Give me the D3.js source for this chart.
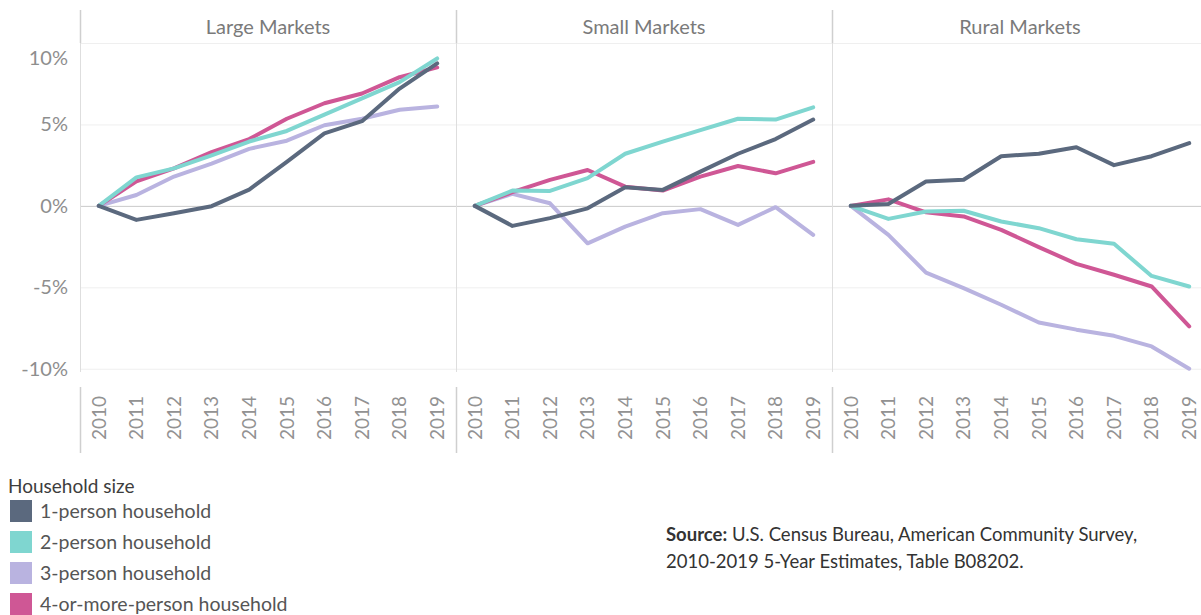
<!DOCTYPE html>
<html>
<head>
<meta charset="utf-8">
<script src="https://cdn.jsdelivr.net/npm/d3@7"></script>
<style>
  html, body { margin: 0; padding: 0; background: #fff; }
  svg { display: block; font-family: Lato, "Open Sans", sans-serif; }
</style>
</head>
<body>
<svg id="chart" width="1201" height="615"></svg>
<script>
// Change in households since 2010, by household size and market type (%)
const years = ["2010","2011","2012","2013","2014","2015","2016","2017","2018","2019"];
const markets = ["Large Markets", "Small Markets", "Rural Markets"];
const sizes = ["1-person household", "2-person household", "3-person household", "4-or-more-person household"];
const colors = ["#5b697e", "#7fd6d0", "#b9b3e0", "#cf5795"];
const yTicks = [10, 5, 0, -5, -10];

// values per market, in the order of `sizes`
const largeOne   = [0, -0.86, -0.45, -0.02, 1.0, 2.7, 4.45, 5.2, 7.2, 8.75];
const largeTwo   = [0, 1.75, 2.3, 3.1, 3.95, 4.6, 5.6, 6.6, 7.6, 9.05];
const largeThree = [0, 0.67, 1.8, 2.6, 3.5, 4.0, 4.95, 5.35, 5.9, 6.1];
const largeFour  = [0, 1.5, 2.3, 3.3, 4.1, 5.35, 6.3, 6.9, 7.9, 8.5];

const smallOne   = [0, -1.23, -0.75, -0.15, 1.15, 0.98, 2.1, 3.2, 4.1, 5.3];
const smallTwo   = [0, 0.94, 0.92, 1.7, 3.2, 3.95, 4.65, 5.35, 5.3, 6.05];
const smallThree = [0, 0.74, 0.16, -2.3, -1.27, -0.45, -0.2, -1.17, -0.08, -1.78];
const smallFour  = [0, 0.84, 1.6, 2.2, 1.18, 0.94, 1.8, 2.45, 2.0, 2.7];

const ruralOne   = [0, 0.12, 1.5, 1.6, 3.05, 3.2, 3.6, 2.5, 3.05, 3.85];
const ruralTwo   = [0, -0.8, -0.35, -0.3, -0.96, -1.37, -2.05, -2.33, -4.3, -4.95];
const ruralThree = [0, -1.78, -4.1, -5.05, -6.07, -7.16, -7.6, -7.98, -8.63, -10.0];
const ruralFour  = [0, 0.4, -0.4, -0.65, -1.47, -2.53, -3.56, -4.23, -4.95, -7.4];

const marketValues = [
  [largeOne, largeTwo, largeThree, largeFour],
  [smallOne, smallTwo, smallThree, smallFour],
  [ruralOne, ruralTwo, ruralThree, ruralFour]
];

const svg = d3.select("#chart");

// layout
const left = 80, panelW = 376;
const headerTop = 10, paneTop = 43, paneBottom = 372;
const axisTop = 387, axisBottom = 453;

const y = d3.scaleLinear().domain([-10.2, 10]).range([paneBottom, paneTop]);
const panelX = d3.scaleBand().domain(markets).range([left, left + panelW * 3]).padding(0);
const x = d3.scalePoint().domain(years).range([0, panelW]).padding(0.5);

// horizontal gridlines
const gridG = svg.append("g");
gridG.selectAll("line.grid")
  .data(yTicks)
  .join("line")
  .attr("x1", left).attr("x2", 1201)
  .attr("y1", d => y(d) + 0.5).attr("y2", d => y(d) + 0.5)
  .attr("stroke", d => d === 0 ? "#c9c9c9" : "#efefef")
  .attr("stroke-width", 1);

// vertical panel borders
const borders = d3.range(markets.length + 1).map(i => left + i * panelW);
borders.forEach(bx => {
  const xx = Math.round(bx) + 0.5;
  svg.append("line").attr("x1", xx).attr("x2", xx).attr("y1", headerTop).attr("y2", paneTop)
    .attr("stroke", "#cfcfcf").attr("stroke-width", 1.5);
  svg.append("line").attr("x1", xx).attr("x2", xx).attr("y1", paneTop).attr("y2", paneBottom)
    .attr("stroke", "#dedede").attr("stroke-width", 1);
  svg.append("line").attr("x1", xx).attr("x2", xx).attr("y1", axisTop).attr("y2", axisBottom)
    .attr("stroke", "#cfcfcf").attr("stroke-width", 1.5);
});

// y axis labels (top label kept inside the pane)
svg.append("g").selectAll("text")
  .data(yTicks)
  .join("text")
  .attr("x", 68)
  .attr("y", d => Math.max(y(d), paneTop + 15))
  .attr("dy", "0.35em")
  .attr("text-anchor", "end")
  .attr("font-size", 20)
  .attr("fill", "#8e8e8e")
  .text(d => d + "%");

const line = d3.line()
  .x((d, i) => x(years[i]))
  .y(d => y(d))
  .curve(d3.curveLinear);

const drawOrder = [2, 3, 1, 0];

markets.forEach((m, mi) => {
  const g = svg.append("g").attr("transform", `translate(${panelX(m)},0)`);

  // panel header
  g.append("text")
    .attr("x", panelW / 2)
    .attr("y", 27)
    .attr("dy", "0.35em")
    .attr("text-anchor", "middle")
    .attr("font-size", 20)
    .attr("fill", "#7a7a7a")
    .text(m);

  // series lines
  const clipId = "clip" + mi;
  g.append("clipPath").attr("id", clipId)
    .append("rect").attr("x", 0).attr("y", paneTop).attr("width", panelW).attr("height", paneBottom - paneTop);

  g.append("g").attr("clip-path", `url(#${clipId})`)
    .selectAll("path")
    .data(drawOrder.map(si => ({ si, values: marketValues[mi][si] })))
    .join("path")
    .attr("d", d => line(d.values))
    .attr("fill", "none")
    .attr("stroke", d => colors[d.si])
    .attr("stroke-width", 4)
    .attr("stroke-linejoin", "round")
    .attr("stroke-linecap", "round");

  // year labels
  g.append("g").selectAll("text")
    .data(years)
    .join("text")
    .attr("transform", d => `translate(${x(d)},${axisTop + 9}) rotate(-90)`)
    .attr("text-anchor", "end")
    .attr("dy", "0.36em")
    .attr("font-size", 19)
    .attr("fill", "#929292")
    .text(d => d);
});

// legend
const legend = svg.append("g").attr("transform", "translate(8,0)");
legend.append("text")
  .attr("x", 0).attr("y", 486).attr("dy", "0.35em")
  .attr("font-size", 19)
  .attr("fill", "#3d3d3d")
  .text("Household size");

const items = legend.selectAll("g.item")
  .data(sizes)
  .join("g")
  .attr("transform", (d, i) => `translate(2,${500 + i * 31})`);
items.append("rect")
  .attr("width", 22).attr("height", 22)
  .attr("fill", (d, i) => colors[i]);
items.append("text")
  .attr("x", 30).attr("y", 11).attr("dy", "0.35em")
  .attr("font-size", 19.5)
  .attr("fill", "#555")
  .text(d => d);

// source note
const src = svg.append("g").attr("transform", "translate(666,0)");
const t1 = src.append("text").attr("x", 0).attr("y", 535).attr("dy", "0.35em")
  .attr("font-size", 18.5).attr("fill", "#333");
t1.append("tspan").attr("font-weight", "bold").text("Source:");
t1.append("tspan").text(" U.S. Census Bureau, American Community Survey,");
src.append("text").attr("x", 0).attr("y", 562).attr("dy", "0.35em")
  .attr("font-size", 18.5).attr("fill", "#333")
  .text("2010-2019 5-Year Estimates, Table B08202.");
</script>
</body>
</html>
